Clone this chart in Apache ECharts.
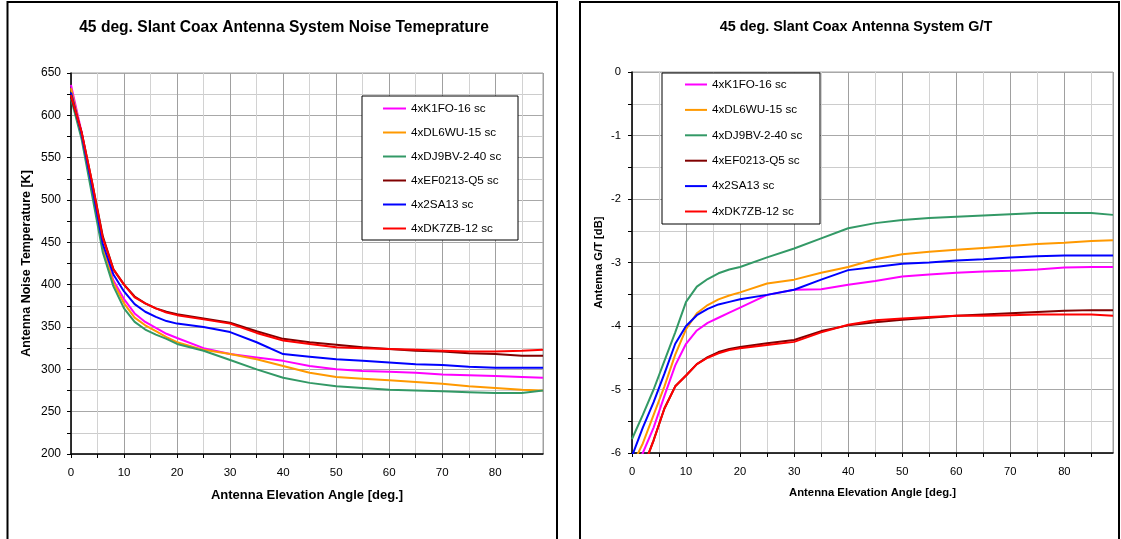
<!DOCTYPE html>
<html>
<head>
<meta charset="utf-8">
<script src="https://cdn.jsdelivr.net/npm/echarts@6/dist/echarts.min.js"></script>
<style>
  html, body { margin: 0; padding: 0; background: #fff; }
  #main { width: 1121px; height: 539px; }
</style>
</head>
<body>
<div id="main"></div>
<script>
const angles = [0, 2, 4, 6, 8, 10, 12, 14, 16, 18, 20, 25, 30, 35, 40, 45, 50, 55, 60, 65, 70, 75, 80, 85, 89];

const names = ['4xK1FO-16 sc', '4xDL6WU-15 sc', '4xDJ9BV-2-40 sc', '4xEF0213-Q5 sc', '4x2SA13 sc', '4xDK7ZB-12 sc'];
const colors = ['#ff00ff', '#ff9900', '#339966', '#800000', '#0000ff', '#ff0000'];

// noise temperature [K]
const tK1FO  = [636, 580, 512, 445, 405, 383, 366, 356, 349, 342, 337, 325, 318, 314, 310, 304, 300, 298, 297, 296, 294, 293, 292, 291, 290];
const tDL6WU = [632, 578, 510, 443, 402, 378, 361, 352, 345, 338, 332, 323, 318, 312, 304, 296, 291, 289, 287, 285, 283, 280, 278, 276, 275];
const tDJ9BV = [620, 572, 505, 438, 398, 372, 356, 347, 341, 336, 330, 322, 311, 300, 290, 284, 280, 278, 276, 275, 274, 273, 272, 272, 275];
const tEF0213 = [622, 580, 520, 457, 418, 400, 386, 378, 372, 368, 365, 360, 355, 345, 336, 332, 329, 326, 324, 322, 321, 319, 318, 316, 316];
const t2SA13 = [627, 578, 515, 448, 412, 392, 377, 368, 362, 357, 354, 350, 344, 332, 318, 315, 312, 310, 308, 306, 305, 303, 302, 302, 302];
const tDK7ZB = [624, 580, 520, 455, 418, 400, 385, 378, 372, 367, 364, 359, 354, 343, 334, 330, 326, 325, 324, 323, 322, 321, 321, 322, 323];

// G/T [dB]
const gK1FO  = [-6.35, -6.0, -5.6, -5.1, -4.62, -4.28, -4.07, -3.95, -3.87, -3.79, -3.71, -3.51, -3.43, -3.42, -3.35, -3.29, -3.22, -3.19, -3.16, -3.14, -3.13, -3.11, -3.08, -3.07, -3.07];
const gDL6WU = [-6.2, -5.85, -5.4, -4.95, -4.45, -4.05, -3.8, -3.67, -3.58, -3.52, -3.47, -3.33, -3.27, -3.16, -3.07, -2.95, -2.87, -2.83, -2.8, -2.77, -2.74, -2.71, -2.69, -2.66, -2.65];
const gDJ9BV = [-5.78, -5.4, -5.0, -4.55, -4.1, -3.62, -3.38, -3.26, -3.17, -3.11, -3.07, -2.92, -2.78, -2.62, -2.46, -2.38, -2.33, -2.3, -2.28, -2.26, -2.24, -2.22, -2.22, -2.22, -2.25];
const gEF0213 = [-6.5, -6.25, -5.8, -5.3, -4.95, -4.78, -4.6, -4.49, -4.41, -4.36, -4.33, -4.27, -4.22, -4.08, -3.99, -3.94, -3.9, -3.87, -3.84, -3.82, -3.8, -3.78, -3.76, -3.75, -3.75];
const g2SA13 = [-6.05, -5.6, -5.2, -4.75, -4.28, -4.0, -3.83, -3.73, -3.66, -3.62, -3.58, -3.51, -3.43, -3.27, -3.12, -3.07, -3.02, -3.0, -2.97, -2.95, -2.92, -2.9, -2.89, -2.89, -2.89];
const gDK7ZB = [-6.5, -6.25, -5.8, -5.3, -4.95, -4.78, -4.6, -4.5, -4.43, -4.38, -4.35, -4.3, -4.25, -4.1, -3.98, -3.91, -3.88, -3.86, -3.84, -3.84, -3.83, -3.82, -3.82, -3.82, -3.84];

const tempData = [tK1FO, tDL6WU, tDJ9BV, tEF0213, t2SA13, tDK7ZB];
const gtData = [gK1FO, gDL6WU, gDJ9BV, gEF0213, g2SA13, gDK7ZB];

const FONT = 'Liberation Sans, Arial, sans-serif';

function zip(vals) {
  return angles.map((a, i) => [a, vals[i]]);
}

function makeX(gridIndex, fontSize, nameSize, nameGap) {
  return {
    type: 'value', gridIndex: gridIndex, min: 0, max: 89, interval: 5,
    name: 'Antenna Elevation Angle [deg.]', nameLocation: 'middle',
    nameGap: nameGap,
    nameTextStyle: { fontFamily: FONT, fontSize: nameSize, fontWeight: 'bold', color: '#000' },
    axisLine: { show: true, onZero: false, lineStyle: { color: '#000', width: 1.5 } },
    axisTick: { show: true, inside: false, length: 4, interval: 0, lineStyle: { color: '#000' } },
    axisLabel: {
      fontFamily: FONT, fontSize: fontSize, color: '#000', margin: 13, showMaxLabel: false,
      formatter: v => (v % 10 === 0 ? String(v) : '')
    },
    splitLine: { show: true, lineStyle: { color: ['#a0a0a0', '#d2d2d2'], width: 1 } }
  };
}

let tempSeries = names.map((n, i) => ({
  name: n, type: 'line', xAxisIndex: 0, yAxisIndex: 0,
  data: zip(tempData[i]), showSymbol: false, symbol: 'none',
  lineStyle: { color: colors[i], width: 2 }, itemStyle: { color: colors[i] },
  animation: false
}));
let gtSeries = names.map((n, i) => ({
  name: n, type: 'line', xAxisIndex: 1, yAxisIndex: 1,
  data: zip(gtData[i]), showSymbol: false, symbol: 'none',
  lineStyle: { color: colors[i], width: 2 }, itemStyle: { color: colors[i] },
  animation: false
}));

let option = {
  animation: false,
  backgroundColor: '#fff',
  grid: [
    { left: 71, top: 73, width: 472, height: 381, show: true, borderColor: '#a0a0a0', borderWidth: 1, backgroundColor: 'transparent' },
    { left: 632, top: 72, width: 481, height: 381, show: true, borderColor: '#a0a0a0', borderWidth: 1, backgroundColor: 'transparent' }
  ],
  xAxis: [makeX(0, 11.5, 13, 34.5), makeX(1, 11.2, 11.3, 34.3)],
  yAxis: [
    {
      type: 'value', gridIndex: 0, min: 200, max: 650, interval: 25,
      name: 'Antenna Noise Temperature [K]', nameLocation: 'middle', nameGap: 38,
      nameTextStyle: { fontFamily: FONT, fontSize: 12.5, fontWeight: 'bold', color: '#000' },
      axisLine: { show: true, lineStyle: { color: '#000', width: 1.5 } },
      axisTick: { show: true, inside: false, length: 4, interval: 0, lineStyle: { color: '#000' } },
      axisLabel: {
        fontFamily: FONT, fontSize: 12, color: '#000', margin: 10,
        formatter: v => (v % 50 === 0 ? String(v) : '')
      },
      splitLine: { show: true, lineStyle: { color: ['#a8a8a8', '#cccccc'], width: 1 } }
    },
    {
      type: 'value', gridIndex: 1, min: -6, max: 0, interval: 0.5,
      name: 'Antenna G/T [dB]', nameLocation: 'middle', nameGap: 27.4,
      nameTextStyle: { fontFamily: FONT, fontSize: 11.2, fontWeight: 'bold', color: '#000' },
      axisLine: { show: true, lineStyle: { color: '#000', width: 1.5 } },
      axisTick: { show: true, inside: false, length: 4, interval: 0, lineStyle: { color: '#000' } },
      axisLabel: {
        fontFamily: FONT, fontSize: 11.2, color: '#000', margin: 11,
        formatter: v => (Math.abs(v - Math.round(v)) < 1e-9 ? String(Math.round(v)) : '')
      },
      splitLine: { show: true, lineStyle: { color: ['#a8a8a8', '#cccccc'], width: 1 } }
    }
  ],
  legend: [
    {
      orient: 'vertical', left: 383, top: 102.5, padding: 0, itemGap: 12,
      icon: 'rect', itemWidth: 23, itemHeight: 2, selectedMode: false,
      data: names, textStyle: { fontFamily: FONT, fontSize: 11.7, color: '#000' }
    },
    {
      orient: 'vertical', left: 685, top: 78.5, padding: 0, itemGap: 13.4,
      icon: 'rect', itemWidth: 22, itemHeight: 2, selectedMode: false,
      data: names, textStyle: { fontFamily: FONT, fontSize: 11.7, color: '#000' }
    }
  ],
  graphic: [
    // panel frames
    { type: 'rect', z: 10, shape: { x: 7.5, y: 2, width: 549.5, height: 600 }, style: { fill: 'none', stroke: '#000', lineWidth: 2 } },
    { type: 'rect', z: 10, shape: { x: 580, y: 2, width: 539, height: 600 }, style: { fill: 'none', stroke: '#000', lineWidth: 2 } },
    // legend boxes
    { type: 'rect', z: 3, shape: { x: 362, y: 96, width: 156, height: 144 }, style: { fill: '#fff', stroke: '#000', lineWidth: 1 } },
    { type: 'rect', z: 3, shape: { x: 662, y: 73, width: 158, height: 151 }, style: { fill: '#fff', stroke: '#000', lineWidth: 1 } },
    // titles
    { type: 'text', z: 10, x: 284, y: 28, style: { text: '45 deg. Slant Coax Antenna System Noise Temeprature', font: 'bold 15.6px ' + FONT, fill: '#000', align: 'center', verticalAlign: 'middle' } },
    { type: 'text', z: 10, x: 856, y: 27, style: { text: '45 deg. Slant Coax Antenna System G/T', font: 'bold 14.4px ' + FONT, fill: '#000', align: 'center', verticalAlign: 'middle' } }
  ],
  series: tempSeries.concat(gtSeries)
};

let myChart = echarts.init(document.getElementById('main'));
myChart.setOption(option);
</script>
</body>
</html>
